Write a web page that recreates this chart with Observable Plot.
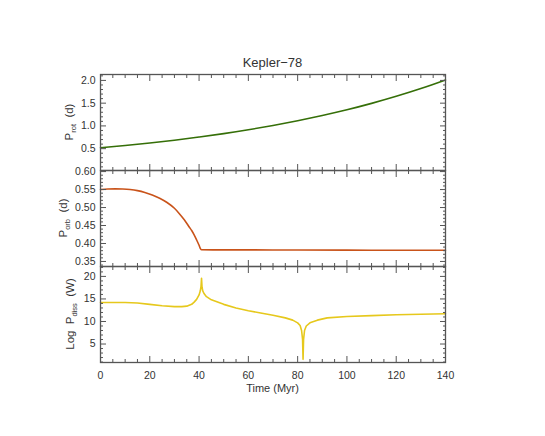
<!DOCTYPE html>
<html><head><meta charset="utf-8">
<script src="https://cdn.jsdelivr.net/npm/d3@7"></script>
<script src="https://cdn.jsdelivr.net/npm/@observablehq/plot@0.6"></script>
<style>
body{margin:0;background:#fff;}
#chart{position:relative;width:545px;height:436px;overflow:hidden;background:#fff;}
#chart svg{position:absolute;left:0;}
</style></head><body><div id="chart"></div>
<script>
const title = "Kepler\u221278";
const xLabel = "Time (Myr)";

// Panel 1: stellar rotation period (d)
const tRot = [0,10,20,30,40,50,60,70,80,90,100,110,120,130,140];
const pRot = [0.52,0.57,0.625,0.685,0.755,0.83,0.915,1.01,1.115,1.23,1.355,1.495,1.65,1.82,2.01];

// Panel 2: orbital period (d)
const tOrb = [0,3,6,9,12,15,18,21,24,27,30,32,34,36,37,38,39,40,40.6,41,50,60,80,100,120,140];
const pOrb = [0.550,0.5515,0.552,0.5515,0.550,0.547,0.542,0.535,0.526,0.514,0.498,0.483,0.466,0.446,0.436,0.424,0.410,0.395,0.385,0.3825,0.3823,0.3822,0.3818,0.3815,0.3812,0.381];

// Panel 3: log dissipated power (W)
const tDiss = [0,5,10,15,20,25,30,33,35,37,38,39,40,40.5,40.8,41.0,41.2,41.5,42,43,45,50,55,60,65,70,75,78,80,81,81.6,82.0,82.2,82.4,82.8,83.5,85,88,92,100,110,120,130,140];
const lDiss = [14.2,14.2,14.2,14.1,13.8,13.5,13.3,13.3,13.4,13.8,14.3,14.9,15.9,16.8,17.8,19.6,17.6,16.8,16.2,15.5,14.8,13.8,13.0,12.4,11.9,11.4,10.8,10.3,9.7,9.1,8.0,6.0,1.6,6.0,8.0,9.0,9.7,10.3,10.8,11.1,11.3,11.5,11.6,11.7];

// tick labels
const xTicks = [0,20,40,60,80,100,120,140];
const yTicksRot = [0.5,1.0,1.5,2.0];
const yTicksOrb = [0.35,0.40,0.45,0.50,0.55,0.60];
const yTicksDiss = [5,10,15,20];

const axisColor = "#555";
const textColor = "#333";
const font = "'Liberation Sans', Arial, Helvetica, sans-serif";
const MAJ = 6, MIN = 3;

const xMinor = d3.range(0, 141, 5).filter(d => d % 20 !== 0);

function tickMarks(yMajor, yMinor) {
  const common = {label: null, tickFormat: () => "", stroke: axisColor, strokeWidth: 1};
  const m = [];
  for (const a of ["left", "right"]) {
    m.push(Plot.axisY(yMajor, {...common, anchor: a, tickSize: -MAJ}));
    m.push(Plot.axisY(yMinor, {...common, anchor: a, tickSize: -MIN}));
  }
  for (const a of ["top", "bottom"]) {
    m.push(Plot.axisX(xTicks, {...common, anchor: a, tickSize: -MAJ}));
    m.push(Plot.axisX(xMinor, {...common, anchor: a, tickSize: -MIN}));
  }
  return m;
}

function panel({t, v, color, curve, yDomain, yMajor, yMinor, yFmt, mt, mb, top, lab, labX, xLabels}) {
  const data = t.map((d, i) => ({t: d, v: v[i]}));
  const marks = [
    Plot.line(data, {x: "t", y: "v", stroke: color, strokeWidth: 1.6, curve}),
    ...tickMarks(yMajor, yMinor),
    Plot.axisY(yMajor, {anchor: "left", tickSize: 0, tickPadding: 5, label: null, tickFormat: yFmt, fill: textColor}),
    Plot.frame({stroke: axisColor, strokeWidth: 1.3})
  ];
  if (xLabels) marks.push(Plot.axisX(xTicks, {anchor: "bottom", tickSize: 0, tickPadding: 9, label: null, tickFormat: d => String(d), fill: textColor}));
  const svg = Plot.plot({
    width: 545, height: 96 + mt + mb,
    marginLeft: 100, marginRight: 100, marginTop: mt, marginBottom: mb,
    x: {domain: [0, 140]},
    y: {domain: yDomain},
    style: {fontFamily: font, fontSize: "10.5px", background: "transparent", color: textColor},
    marks
  });
  svg.style.top = top + "px";
  const s = d3.select(svg);
  const tx = s.append("text")
    .attr("transform", `translate(${labX},${mt + 48}) rotate(-90)`)
    .attr("text-anchor", "middle").attr("fill", textColor)
    .attr("font-size", 11.5).attr("font-family", font);
  tx.append("tspan").text(lab[0]);
  tx.append("tspan").text(lab[1]).attr("font-size", 7.5).attr("dy", 2.5);
  tx.append("tspan").text(lab[2]).attr("dy", -2.5);
  return svg;
}

const chart = document.getElementById("chart");

const p1 = panel({t: tRot, v: pRot, color: "#356f08", curve: "natural", yDomain: [0.02, 2.13],
  yMajor: yTicksRot, yMinor: d3.range(1, 22).filter(i => i % 5 !== 0).map(i => i / 10),
  yFmt: d => d.toFixed(1), mt: 74, mb: 10, top: 0, lab: ["P", "rot", "  (d)"], labX: 73});
d3.select(p1).append("text").attr("x", 272.5).attr("y", 66.5).attr("text-anchor", "middle")
  .attr("font-size", 13).attr("font-family", font).attr("fill", textColor).text(title);

const p2 = panel({t: tOrb, v: pOrb, color: "#c9531a", curve: "monotone-x", yDomain: [0.336, 0.603],
  yMajor: yTicksOrb, yMinor: d3.range(34, 61).filter(i => i % 5 !== 0).map(i => i / 100),
  yFmt: d => d.toFixed(2), mt: 10, mb: 10, top: 160, lab: ["P", "orb", "  (d)"], labX: 67});

const p3 = panel({t: tDiss, v: lDiss, color: "#e6c81c", curve: "linear", yDomain: [0.9, 22.2],
  yMajor: yTicksDiss, yMinor: d3.range(1, 23).filter(i => i % 5 !== 0),
  yFmt: d => String(d), mt: 10, mb: 74, top: 256, lab: ["Log  P", "diss", "  (W)"], labX: 74, xLabels: true});
d3.select(p3).append("text").attr("x", 272.5).attr("y", 136).attr("text-anchor", "middle")
  .attr("font-size", 11).attr("font-family", font).attr("fill", textColor).text(xLabel);

chart.append(p1, p2, p3);
</script></body></html>
